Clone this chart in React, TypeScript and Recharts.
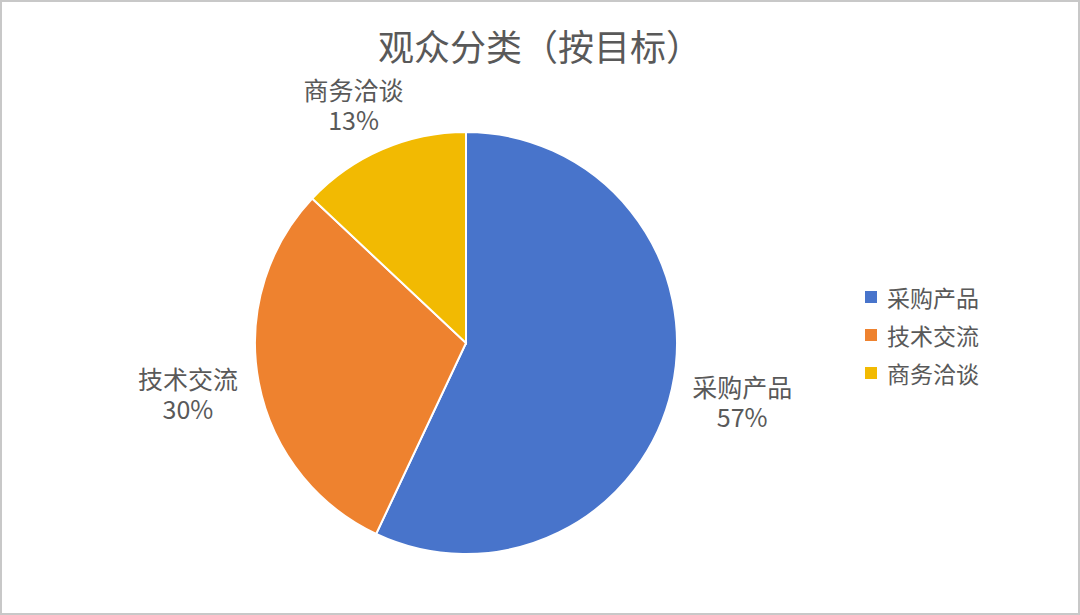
import * as React from 'react';
import { PieChart, Pie, Cell, Legend } from 'recharts';

const categories = ['采购产品', '技术交流', '商务洽谈'];
const shares = [57, 30, 13];
const COLORS = ['#4874CB', '#EE822F', '#F2BA02'];

const data = categories.map((name, i) => ({ name, value: shares[i] }));

const FONT = '"Noto Sans CJK SC", "Noto Sans", sans-serif';
const TEXT = '#595959';
const RAD = Math.PI / 180;

function renderLabel(props: any) {
  const { cx, cy, midAngle, outerRadius, percent, name } = props;
  const c = Math.cos(-midAngle * RAD);
  const s = Math.sin(-midAngle * RAD);
  const r = outerRadius + 20;
  const x = cx + r * c + c * 52;
  const y = cy + r * s + s * 30;
  return (
    <g>
      <text x={x} y={y - 14} fill={TEXT} fontSize={25} fontFamily={FONT} textAnchor="middle" dominantBaseline="central">
        {name}
      </text>
      <text x={x} y={y + 16} fill={TEXT} fontSize={25} fontFamily={FONT} textAnchor="middle" dominantBaseline="central">
        {`${Math.round(percent * 100)}%`}
      </text>
    </g>
  );
}

function LegendBox() {
  return (
    <div style={{ fontFamily: FONT, fontSize: 23, color: TEXT }}>
      {categories.map((name, i) => (
        <div key={`lg-${i}`} style={{ display: 'flex', alignItems: 'center', height: 38 }}>
          <span style={{ width: 12, height: 12, background: COLORS[i], marginRight: 10, display: 'inline-block' }} />
          <span style={{ lineHeight: '38px' }}>{name}</span>
        </div>
      ))}
    </div>
  );
}

export default function App() {
  return (
    <div style={{ position: 'fixed', left: 0, top: 0, width: 1080, height: 615, background: '#fff' }}>
      <PieChart width={1080} height={615} margin={{ top: 0, right: 0, bottom: 0, left: 0 }}>
        <text x={540} y={45} textAnchor="middle" dominantBaseline="central" fontSize={36} fontFamily={FONT} fill={TEXT}>
          观众分类（按目标）
        </text>
        <Pie
          data={data}
          dataKey="value"
          nameKey="name"
          cx={466}
          cy={343}
          outerRadius={211}
          startAngle={90}
          endAngle={-270}
          stroke="#ffffff"
          strokeWidth={2}
          label={renderLabel}
          labelLine={false}
          isAnimationActive={false}
        >
          {data.map((entry, index) => (
            <Cell key={`cell-${index}`} fill={COLORS[index % COLORS.length]} />
          ))}
        </Pie>
        <Legend
          layout="vertical"
          content={<LegendBox />}
          wrapperStyle={{ position: 'absolute', left: 865, top: 278, width: 200 }}
        />
      </PieChart>
      <div
        style={{
          position: 'absolute',
          left: 0,
          top: 0,
          width: 1080,
          height: 615,
          boxSizing: 'border-box',
          border: '2px solid #c8c8c8',
          pointerEvents: 'none',
        }}
      />
    </div>
  );
}
